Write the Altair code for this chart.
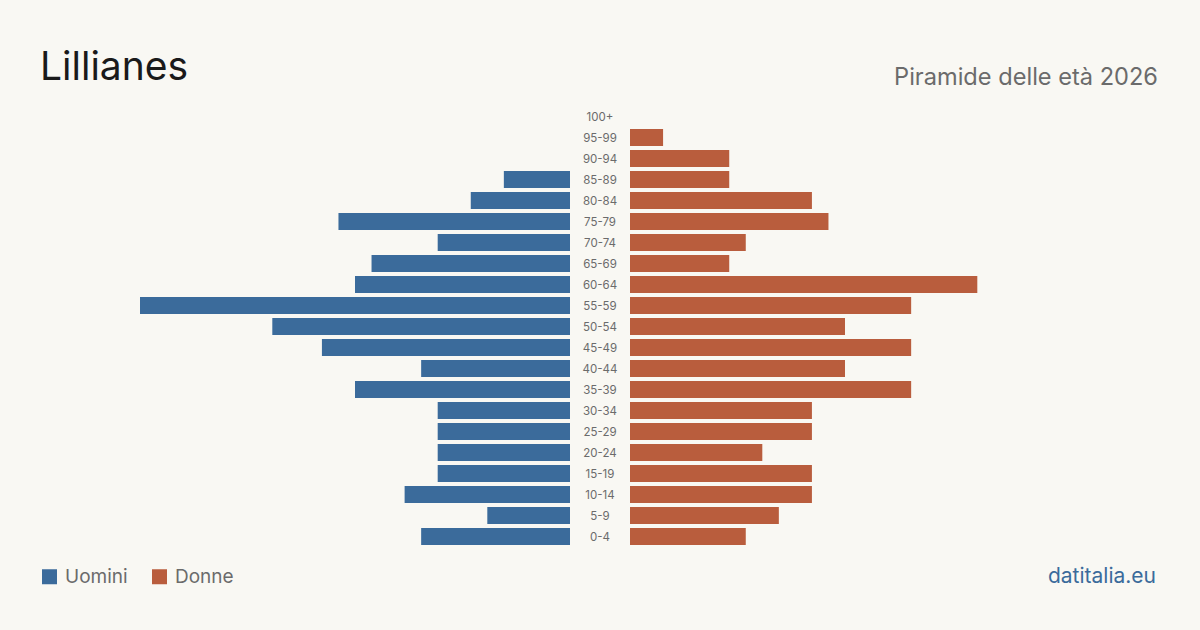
import altair as alt
import pandas as pd

ages = ["100+", "95-99", "90-94", "85-89", "80-84", "75-79", "70-74", "65-69",
        "60-64", "55-59", "50-54", "45-49", "40-44", "35-39", "30-34", "25-29",
        "20-24", "15-19", "10-14", "5-9", "0-4"]
men = [0, 0, 0, 4, 6, 14, 8, 12, 13, 26, 18, 15, 9, 13, 8, 8, 8, 8, 10, 5, 9]
women = [0, 2, 6, 6, 11, 12, 7, 6, 21, 17, 13, 17, 13, 17, 11, 11, 8, 11, 11, 9, 7]
sexes = ["Uomini", "Donne"]
colors = ["#3b6b9b", "#b95d3d"]

rows = []
for a, m, w in zip(ages, men, women):
    rows.append({"age": a, "sex": "Uomini", "value": m})
    rows.append({"age": a, "sex": "Donne", "value": w})
df = pd.DataFrame(rows)
lab = pd.DataFrame({"age": ages})

FONT = "Inter"
vmax = max(max(men), max(women))

yenc = alt.Y("age:N", sort=ages, axis=None,
             scale=alt.Scale(domain=ages, range=[106, 547],
                             paddingInner=0.19, paddingOuter=0.095))
color = alt.Color("sex:N", scale=alt.Scale(domain=sexes, range=colors),
                  legend=alt.Legend(title=None, orient="none", legendX=40, legendY=567,
                                    direction="horizontal", symbolType="square",
                                    symbolSize=225, symbolStrokeWidth=0,
                                    labelFontSize=19, labelColor="#6b6b6b",
                                    labelFont=FONT, columnPadding=22, labelOffset=6,
                                    padding=0))

men_layer = alt.Chart(df).transform_filter(alt.datum.sex == "Uomini").mark_bar().encode(
    x=alt.X("value:Q", axis=None, scale=alt.Scale(domain=[0, vmax], range=[570, 140])),
    y=yenc, color=color)

women_layer = alt.Chart(df).transform_filter(alt.datum.sex == "Donne").mark_bar().encode(
    x=alt.X("value:Q", axis=None, scale=alt.Scale(domain=[0, vmax], range=[630, 1060])),
    y=yenc, color=color)

labels = alt.Chart(lab).mark_text(font=FONT, fontSize=11.5, color="#6b6b6b",
                                  align="center", baseline="middle", dy=1).encode(
    x=alt.value(600), y=yenc, text="age:N")

one = pd.DataFrame({"k": [0]})
title = alt.Chart(one).mark_text(font=FONT, fontSize=39, color="#1a1a1a", align="left",
                                 baseline="alphabetic").encode(
    x=alt.value(40), y=alt.value(80), text=alt.value("Lillianes"))
subtitle = alt.Chart(one).mark_text(font=FONT, fontSize=23.6, color="#6b6b6b", align="right",
                                    baseline="alphabetic").encode(
    x=alt.value(1158), y=alt.value(85), text=alt.value("Piramide delle età 2026"))
source = alt.Chart(one).mark_text(font=FONT, fontSize=21, color="#3b6b9b", align="right",
                                  baseline="alphabetic").encode(
    x=alt.value(1156), y=alt.value(583), text=alt.value("datitalia.eu"))

chart = alt.layer(men_layer, women_layer, labels, title, subtitle, source).resolve_scale(
    x="independent"
).properties(
    width=1200, height=630, autosize=alt.AutoSizeParams(type="none"), padding=0,
    background="#f9f8f3"
).configure_view(stroke=None)

chart.save("out.html", embed_options={"renderer": "svg", "actions": False})
